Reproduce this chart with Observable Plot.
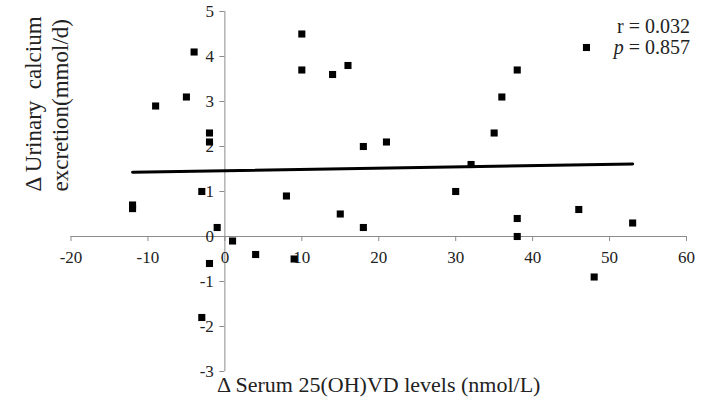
<!DOCTYPE html>
<html>
<head>
<meta charset="utf-8">
<script src="https://cdn.jsdelivr.net/npm/d3@7"></script>
<script src="https://cdn.jsdelivr.net/npm/@observablehq/plot@0.6"></script>
<style>
  html, body { margin: 0; padding: 0; background: #fff; }
  #chart { width: 704px; height: 415px; }
</style>
</head>
<body>
<div id="chart"></div>
<script>
// Δ Serum 25(OH)VD levels (nmol/L)
const xValues = [-12, -12, -9, -5, -4, -2, -2, -3, -1, 1, -2, 4, 9, -3, 8, 10, 10, 14, 16, 15, 18, 21, 18, 30, 32, 35, 36, 38, 47, 38, 38, 46, 53, 48];
// Δ Urinary calcium excretion (mmol/d)
const yValues = [0.7, 0.62, 2.9, 3.1, 4.1, 2.3, 2.1, 1.0, 0.2, -0.1, -0.6, -0.4, -0.5, -1.8, 0.9, 4.5, 3.7, 3.6, 3.8, 0.5, 2.0, 2.1, 0.2, 1.0, 1.6, 2.3, 3.1, 3.7, 4.2, 0.4, 0.0, 0.6, 0.3, -0.9];

const xTicks = [-20, -10, 0, 10, 20, 30, 40, 50, 60];
const yTicks = [-3, -2, -1, 0, 1, 2, 3, 4, 5];
const xTitle = "Δ Serum 25(OH)VD levels (nmol/L)";
const yTitleLines = ["Δ Urinary  calcium", "excretion(mmol/d)"];
const statLines = ["r = 0.032", "p = 0.857"];

const data = xValues.map((x, i) => ({x, y: yValues[i]}));

const axisColor = "#8c8c8c";
const serif = "'Liberation Serif', 'Times New Roman', serif";

const chart = Plot.plot({
  width: 704,
  height: 415,
  marginLeft: 70.5,
  marginRight: 18,
  marginTop: 11,
  marginBottom: 44,
  style: {fontFamily: serif, background: "#fff"},
  x: {domain: [-20, 60], axis: null},
  y: {domain: [-3, 5], axis: null},
  marks: [
    // axes crossing at the origin
    Plot.ruleY([0], {x1: -20, x2: 60, stroke: axisColor, strokeWidth: 1}),
    Plot.ruleX([0], {y1: -3, y2: 5, stroke: axisColor, strokeWidth: 1}),
    Plot.ruleX(xTicks, {x: d => d, y1: 0, y2: 0, insetBottom: -5, stroke: axisColor}),
    Plot.ruleY(yTicks, {y: d => d, x1: 0, x2: 0, insetLeft: -5, stroke: axisColor}),
    Plot.text(xTicks, {x: d => d, y: 0, text: d => String(d), dy: 21, fontSize: 17, fill: "#222"}),
    Plot.text(yTicks, {x: 0, y: d => d, text: d => String(d), dx: -11, textAnchor: "end", fontSize: 17, fill: "#222"}),
    // points
    Plot.dot(data, {x: "x", y: "y", symbol: "square", r: 4, fill: "#000", stroke: "none"}),
    // regression line
    Plot.linearRegressionY(data, {x: "x", y: "y", ci: 0, stroke: "#000", strokeWidth: 3}),
    // axis titles
    Plot.text([xTitle], {frameAnchor: "bottom", text: d => d, dy: 20, fontSize: 22, fill: "#222"}),
    Plot.text([yTitleLines[0]], {frameAnchor: "left", text: d => d, rotate: -90, dx: -37, fontSize: 23, fill: "#222"}),
    Plot.text([yTitleLines[1]], {frameAnchor: "left", text: d => d, rotate: -90, dx: -10, fontSize: 23, fill: "#222"})
  ]
});

document.getElementById("chart").appendChild(chart);

// statistics annotation (r and italic p)
const svg = d3.select(chart);
const g = svg.append("g")
  .attr("font-family", serif)
  .attr("font-size", 20)
  .attr("fill", "#222")
  .attr("text-anchor", "end");
g.append("text").attr("x", 690).attr("y", 33).text(statLines[0]);
const t2 = g.append("text").attr("x", 690).attr("y", 54);
const parts = statLines[1].split(" = ");
t2.append("tspan").attr("font-style", "italic").text(parts[0]);
t2.append("tspan").text(" = " + parts[1]);
</script>
</body>
</html>
